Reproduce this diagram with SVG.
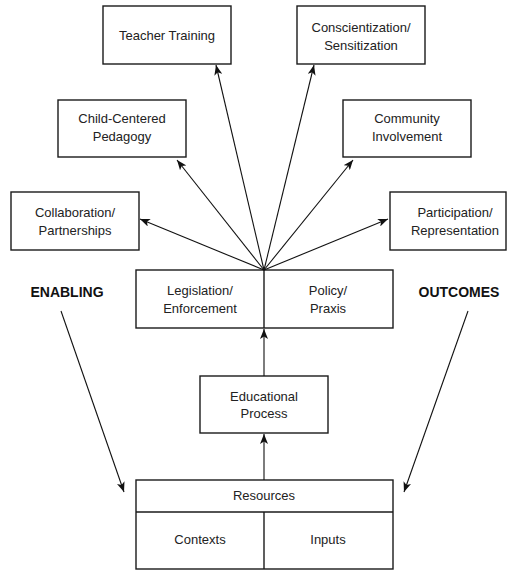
<svg xmlns="http://www.w3.org/2000/svg" width="509" height="570" viewBox="0 0 509 570">
  <defs>
    <marker id="arrow" viewBox="0 0 10 8" refX="10" refY="4" markerWidth="10" markerHeight="8" markerUnits="userSpaceOnUse" orient="auto">
      <path d="M0,0 L10,4 L0,8 L2.5,4 Z" fill="#111"/>
    </marker>
    <style>
      .box { fill: #fff; stroke: #1a1a1a; stroke-width: 1.4; }
      .div { stroke: #1a1a1a; stroke-width: 1.4; fill: none; }
      .lbl { font-family: "Liberation Sans", Arial, sans-serif; font-size: 13px; fill: #222; text-anchor: middle; }
      .big { font-family: "Liberation Sans", Arial, sans-serif; font-size: 14px; font-weight: bold; fill: #111; text-anchor: middle; }
      .conn line { stroke: #111; stroke-width: 1.1; marker-end: url(#arrow); }
    </style>
  </defs>
  <rect width="509" height="570" fill="#fff"/>

  <!-- outcome boxes -->
  <g id="teacher-training">
    <rect class="box" x="103" y="6" width="128" height="58"/>
    <text class="lbl" x="167" y="40">Teacher Training</text>
  </g>
  <g id="conscientization">
    <rect class="box" x="297" y="6" width="128" height="58"/>
    <text class="lbl" x="361" y="32">Conscientization/</text>
    <text class="lbl" x="361" y="50">Sensitization</text>
  </g>
  <g id="child-centered">
    <rect class="box" x="58" y="100" width="128" height="57"/>
    <text class="lbl" x="122" y="123">Child-Centered</text>
    <text class="lbl" x="122" y="141">Pedagogy</text>
  </g>
  <g id="community">
    <rect class="box" x="343" y="100" width="128" height="57"/>
    <text class="lbl" x="407" y="123">Community</text>
    <text class="lbl" x="407" y="141">Involvement</text>
  </g>
  <g id="collaboration">
    <rect class="box" x="11" y="192" width="128" height="58"/>
    <text class="lbl" x="75" y="217">Collaboration/</text>
    <text class="lbl" x="75" y="235">Partnerships</text>
  </g>
  <g id="participation">
    <rect class="box" x="390" y="192" width="116" height="58"/>
    <text class="lbl" x="455" y="217">Participation/</text>
    <text class="lbl" x="455" y="235">Representation</text>
  </g>

  <!-- side labels -->
  <g id="enabling">
    <text class="big" x="67" y="297">ENABLING</text>
  </g>
  <g id="outcomes">
    <text class="big" x="459" y="297">OUTCOMES</text>
  </g>

  <!-- legislation / policy -->
  <g id="legislation-policy">
    <rect class="box" x="136" y="270" width="257" height="58"/>
    <line class="div" x1="264" y1="270" x2="264" y2="328"/>
    <text class="lbl" x="200" y="295">Legislation/</text>
    <text class="lbl" x="200" y="313">Enforcement</text>
    <text class="lbl" x="328" y="295">Policy/</text>
    <text class="lbl" x="328" y="313">Praxis</text>
  </g>

  <!-- educational process -->
  <g id="educational-process">
    <rect class="box" x="200" y="376" width="128" height="57"/>
    <text class="lbl" x="264" y="401">Educational</text>
    <text class="lbl" x="264" y="418">Process</text>
  </g>

  <!-- resources -->
  <g id="resources">
    <rect class="box" x="136" y="480" width="257" height="89"/>
    <line class="div" x1="136" y1="512" x2="393" y2="512"/>
    <line class="div" x1="264" y1="512" x2="264" y2="569"/>
    <text class="lbl" x="264" y="500">Resources</text>
    <text class="lbl" x="200" y="544">Contexts</text>
    <text class="lbl" x="328" y="544">Inputs</text>
  </g>

  <!-- connectors -->
  <g id="connectors" class="conn">
    <line x1="264" y1="270" x2="216" y2="65"/>
    <line x1="264" y1="270" x2="314" y2="65"/>
    <line x1="264" y1="270" x2="177" y2="160"/>
    <line x1="264" y1="270" x2="353" y2="160"/>
    <line x1="264" y1="270" x2="140" y2="219"/>
    <line x1="264" y1="270" x2="388" y2="219"/>
    <line x1="264" y1="376" x2="264" y2="329"/>
    <line x1="264" y1="480" x2="264" y2="434"/>
    <line x1="61" y1="311" x2="124" y2="492"/>
    <line x1="468" y1="311" x2="404" y2="492"/>
  </g>
</svg>
